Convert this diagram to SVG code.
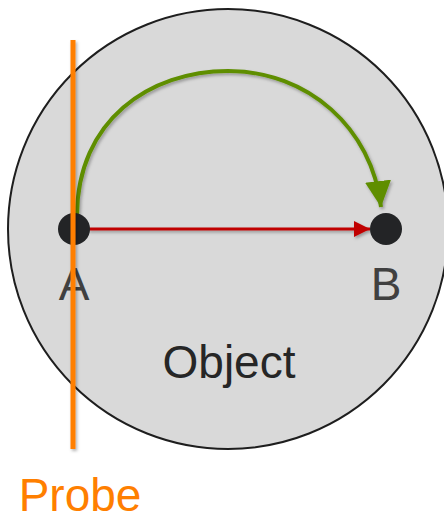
<svg xmlns="http://www.w3.org/2000/svg" width="444" height="522" viewBox="0 0 444 522">
  <defs>
    <filter id="sh" filterUnits="userSpaceOnUse" x="0" y="0" width="444" height="522">
      <feDropShadow dx="1.5" dy="2" stdDeviation="1.5" flood-color="#000" flood-opacity="0.3"/>
    </filter>
    <marker id="redHead" viewBox="0 0 16 16" refX="16" refY="8" markerWidth="16" markerHeight="16" markerUnits="userSpaceOnUse" orient="auto">
      <path d="M0,0 L16,8 L0,16 Z" fill="#C00000"/>
    </marker>
    <marker id="greenHead" viewBox="0 0 26 26" refX="26" refY="13" markerWidth="26" markerHeight="26" markerUnits="userSpaceOnUse" orient="auto">
      <path d="M0,0 L26,13 L0,26 Z" fill="#5E8E00"/>
    </marker>
  </defs>
  <style>
    .lbl { font-family: "Liberation Sans", Arial, sans-serif; font-size: 46px; text-anchor: middle; }
    .dot { fill: #232426; }
  </style>
  <g id="object">
    <circle cx="228" cy="229" r="220" fill="#D9D9D9" stroke="#1E1E1E" stroke-width="2"/>
    <text class="lbl" x="229" y="378" fill="#262626">Object</text>
  </g>
  <g id="connectors" filter="url(#sh)">
    <path d="M77,216 C77,120 150,71 228,71 C308,71 372,128 381,207" fill="none" stroke="#5E8E00" stroke-width="4" marker-end="url(#greenHead)"/>
    <line x1="88" y1="229" x2="370" y2="229" stroke="#C00000" stroke-width="3" marker-end="url(#redHead)"/>
  </g>
  <g id="nodeA">
    <circle class="dot" cx="74" cy="229" r="16"/>
    <text class="lbl" x="74" y="300" fill="#404040">A</text>
  </g>
  <g id="nodeB">
    <circle class="dot" cx="386" cy="229" r="16"/>
    <text class="lbl" x="386" y="300" fill="#404040">B</text>
  </g>
  <g id="probe">
    <line x1="73" y1="40" x2="73" y2="449" stroke="#FF7F00" stroke-width="5" filter="url(#sh)"/>
    <text class="lbl" x="80" y="511" fill="#FF7F00">Probe</text>
  </g>
</svg>
